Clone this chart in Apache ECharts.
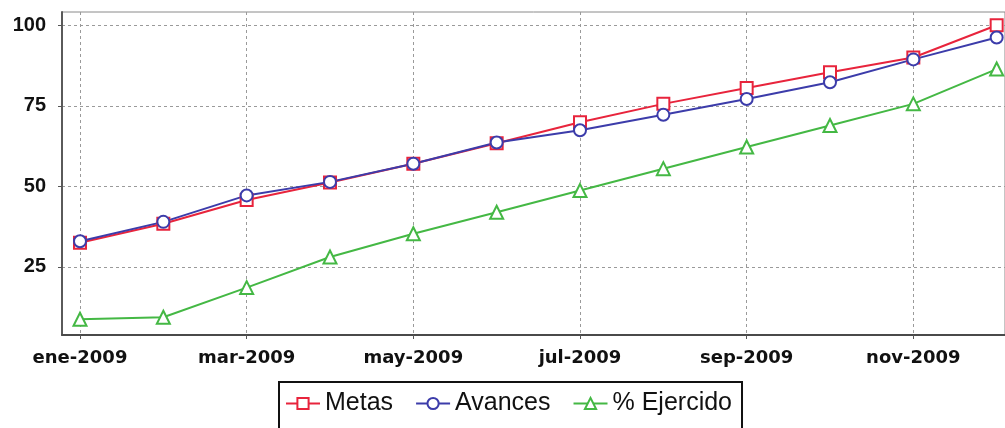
<!DOCTYPE html>
<html>
<head>
<meta charset="utf-8">
<script src="https://cdn.jsdelivr.net/npm/echarts@6/dist/echarts.min.js"></script>
<style>
  html, body { margin: 0; padding: 0; background: #fff; }
  #main { width: 1005px; height: 428px; }
</style>
</head>
<body>
<div id="main"></div>
<script>
var months = ['ene-2009', 'feb-2009', 'mar-2009', 'abr-2009', 'may-2009', 'jun-2009',
              'jul-2009', 'ago-2009', 'sep-2009', 'oct-2009', 'nov-2009', 'dic-2009'];
var metas     = [32.5, 38.4, 45.8, 51.2, 57.0, 63.4, 69.9, 75.6, 80.5, 85.4, 90.0, 100.0];
var avances   = [33.0, 39.0, 47.2, 51.4, 57.0, 63.6, 67.4, 72.2, 77.1, 82.3, 89.4, 96.2];
var ejercido  = [8.8, 9.4, 18.6, 28.1, 35.3, 42.0, 48.7, 55.5, 62.2, 68.9, 75.6, 86.4];
var monthTicks = [0, 2, 4, 6, 8, 10];
var valueTicks = [25, 50, 75, 100];

var myChart = echarts.init(document.getElementById('main'));

function pairs(arr) {
    return arr.map(function (v, i) { return [i, v]; });
}

var option = {
    animation: false,
    grid: {
        left: 62, right: 0, top: 12, bottom: 93,
        show: true, borderColor: '#8a8a8a', borderWidth: 1
    },
    legend: {
        left: 279, top: 382,
        padding: [9, 10, 16, 6],
        borderColor: '#111',
        borderWidth: 2,
        itemWidth: 34,
        itemHeight: 14,
        itemGap: 22,
        textStyle: { fontFamily: 'Liberation Sans', fontSize: 25, color: '#111' },
        data: ['Metas', 'Avances', '% Ejercido']
    },
    xAxis: {
        type: 'value',
        min: -0.216,
        max: 11.1,
        axisLine: { show: true, onZero: false, lineStyle: { color: '#4a4a4a', width: 2 } },
        axisTick: { show: true, customValues: monthTicks, length: 4, lineStyle: { color: '#555' } },
        axisLabel: {
            customValues: monthTicks,
            margin: 14,
            fontFamily: 'DejaVu Sans', fontWeight: 'bold', fontSize: 18, color: '#111',
            formatter: function (v) { return months[v]; }
        },
        splitLine: { show: true, lineStyle: { type: [3, 3], color: '#9a9a9a', width: 1 } }
    },
    yAxis: {
        type: 'value',
        min: 3.9,
        max: 104.1,
        axisLine: { show: true, onZero: false, lineStyle: { color: '#5a5a5a', width: 2 } },
        axisTick: { show: true, customValues: valueTicks, length: 4, lineStyle: { color: '#555' } },
        axisLabel: {
            customValues: valueTicks,
            margin: 16,
            fontFamily: 'Liberation Sans', fontWeight: 'bold', fontSize: 20, color: '#111'
        },
        splitLine: { show: true, lineStyle: { type: [3, 3], color: '#9a9a9a', width: 1 } }
    },
    series: [
        {
            name: 'Metas', type: 'line', data: pairs(metas),
            symbol: 'emptyRect', symbolSize: 12,
            lineStyle: { color: '#e8243c', width: 2 },
            itemStyle: { color: '#e8243c', borderWidth: 2 }
        },
        {
            name: 'Avances', type: 'line', data: pairs(avances),
            symbol: 'emptyCircle', symbolSize: 12,
            lineStyle: { color: '#3c3caa', width: 2 },
            itemStyle: { color: '#3c3caa', borderWidth: 2 }
        },
        {
            name: '% Ejercido', type: 'line', data: pairs(ejercido),
            symbol: 'emptyTriangle', symbolSize: 13,
            lineStyle: { color: '#44b844', width: 2 },
            itemStyle: { color: '#44b844', borderWidth: 2 }
        }
    ]
};

myChart.setOption(option);
</script>
</body>
</html>
